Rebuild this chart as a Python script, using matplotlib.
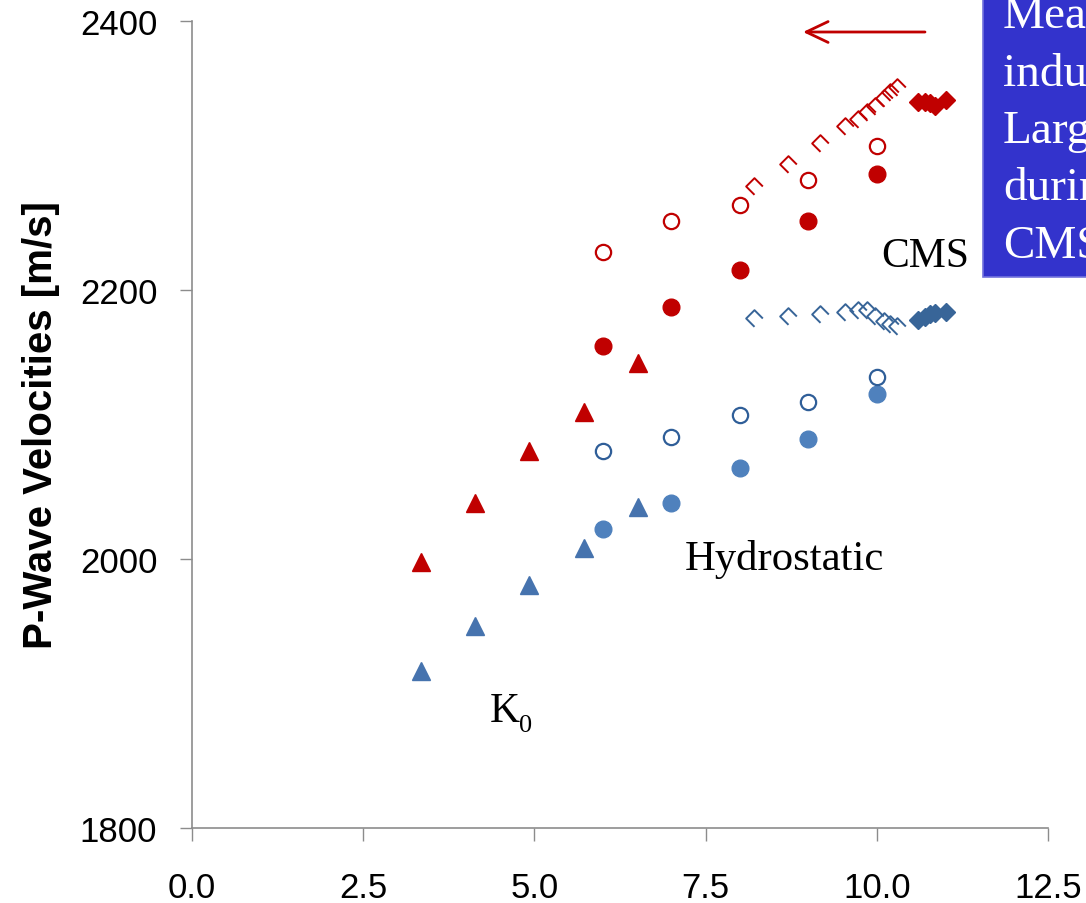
import matplotlib
matplotlib.use("Agg")
import matplotlib.pyplot as plt
from matplotlib.path import Path
from matplotlib.patches import Rectangle, FancyArrowPatch
from matplotlib import font_manager

# ---- data -------------------------------------------------------------
# K0 loading (triangles)
k0_x = [3.34, 4.13, 4.92, 5.72, 6.51]
k0_red = [1998, 2042, 2080, 2109, 2146]
k0_blue = [1917, 1950, 1981, 2008, 2039]

# Hydrostatic loading (circles)
hyd_x = [6, 7, 8, 9, 10]
hyd_red_open = [2228, 2251, 2263, 2282, 2307]
hyd_red_fill = [2158, 2187, 2215, 2251, 2286]
hyd_blue_open = [2080, 2091, 2107, 2117, 2135]
hyd_blue_fill = [2022, 2042, 2068, 2089, 2123]

# CMS loading (diamonds)
cms_x = [8.2, 8.7, 9.17, 9.54, 9.72, 9.85, 9.98, 10.1, 10.2, 10.3]
cms_red_open = [2277, 2294, 2309, 2322, 2327, 2332, 2337, 2343, 2347, 2351]
cms_blue_open = [2179, 2181, 2182, 2184, 2185, 2185, 2181, 2177, 2175, 2173]
cms_fill_x = [10.60, 10.70, 10.78, 10.85, 11.01]
cms_red_fill = [2340, 2340, 2339, 2337, 2341]
cms_blue_fill = [2178, 2180, 2182, 2183, 2184]

x_ticks = [0.0, 2.5, 5.0, 7.5, 10.0, 12.5]
x_ticklabels = ["0.0", "2.5", "5.0", "7.5", "10.0", "12.5"]
y_ticks = [1800, 2000, 2200, 2400]
y_label = "P-Wave Velocities [m/s]"
box_lines = ["Measured", "induced", "Larger", "during", "CMS."]

# ---- colours ------------------------------------------------------------
RED = "#C00000"
BLUE_TRI = "#4673AE"
BLUE_FILL = "#4F81BD"
BLUE_OPEN = "#2F5E98"
BLUE_DIA = "#386598"
AXIS_GREY = "#8C8C8C"

available = {f.name for f in font_manager.fontManager.ttflist}
SANS = "Liberation Sans" if "Liberation Sans" in available else "DejaVu Sans"
SERIF = "Liberation Serif" if "Liberation Serif" in available else "DejaVu Serif"
if "Liberation Sans Narrow" in available:
    label_font, label_size = "Liberation Sans Narrow", 35
else:
    label_font, label_size = SANS, 29

# open diamond drawn as three strokes
open_dia = Path([(0, -1), (-1, 0), (0, 1), (1, 0)],
                [Path.MOVETO, Path.LINETO, Path.LINETO, Path.LINETO])

W, H = 1086, 904
fig = plt.figure(figsize=(W / 100, H / 100), dpi=100)
ax = fig.add_axes([192 / W, 75 / H, 856 / W, 807 / H])
ax.set_xlim(0, 12.5)
ax.set_ylim(1800, 2400)

for side in ("top", "right"):
    ax.spines[side].set_visible(False)
for side in ("left", "bottom"):
    ax.spines[side].set_color(AXIS_GREY)
    ax.spines[side].set_linewidth(1.2)

ax.set_xticks(x_ticks)
ax.set_xticklabels(x_ticklabels)
ax.set_yticks(y_ticks)
ax.tick_params(axis="both", direction="out", length=9, width=1.0,
               color=AXIS_GREY, labelsize=25)
ax.tick_params(axis="y", pad=16)
ax.tick_params(axis="x", pad=22)
for lab in ax.get_xticklabels() + ax.get_yticklabels():
    lab.set_fontfamily(SANS)

ax.set_ylabel(y_label, fontfamily=label_font, fontsize=label_size,
              fontweight="bold", labelpad=14)

kw = dict(linestyle="none", clip_on=False)
# K0
ax.plot(k0_x, k0_red, marker="^", ms=12.4, color=RED, mec=RED, **kw)
ax.plot(k0_x, k0_blue, marker="^", ms=12.4, color=BLUE_TRI, mec=BLUE_TRI, **kw)
# Hydrostatic
ax.plot(hyd_x, hyd_red_fill, marker="o", ms=12, color=RED, mec=RED, **kw)
ax.plot(hyd_x, hyd_red_open, marker="o", ms=11, mfc="none", mec=RED, mew=1.6, **kw)
ax.plot(hyd_x, hyd_blue_fill, marker="o", ms=12, color=BLUE_FILL, mec=BLUE_FILL, **kw)
ax.plot(hyd_x, hyd_blue_open, marker="o", ms=11, mfc="none", mec=BLUE_OPEN, mew=1.6, **kw)
# CMS
ax.plot(cms_x, cms_red_open, marker=open_dia, ms=12, mfc="none", mec=RED, mew=1.4, **kw)
ax.plot(cms_x, cms_blue_open, marker=open_dia, ms=12, mfc="none", mec=BLUE_DIA, mew=1.4, **kw)
ax.plot(cms_fill_x, cms_red_fill, marker="D", ms=9, color=RED, mec=RED, **kw)
ax.plot(cms_fill_x, cms_blue_fill, marker="D", ms=9, color=BLUE_DIA, mec=BLUE_DIA, **kw)

# curve labels
ax.text(7.2, 1992.6, "Hydrostatic", fontfamily=SERIF, fontsize=30.8, va="baseline")
ax.text(10.06, 2217.8, "CMS", fontfamily=SERIF, fontsize=30, va="baseline")
ax.text(4.35, 1879.6, "K", fontfamily=SERIF, fontsize=30, va="baseline")
ax.text(4.78, 1872.3, "0", fontfamily=SERIF, fontsize=19, va="baseline")

# call-out box at the upper right
fig.patches.append(Rectangle((983 / W, 1 - 278 / H), 0.3, 0.5,
                             transform=fig.transFigure, facecolor="#3333CC",
                             edgecolor="#7373DD", lw=1.2, zorder=3))
for i, line in enumerate(box_lines):
    fig.text(1003 / W, 1 - (28 + 57.5 * i) / H, line, color="white",
             fontfamily=SERIF, fontsize=34, va="baseline", zorder=4)

# arrow pointing left
fig.patches.append(FancyArrowPatch((925 / W, 1 - 33 / H), (803 / W, 1 - 33 / H),
                                   transform=fig.transFigure,
                                   arrowstyle="->,head_length=1.05,head_width=0.5",
                                   mutation_scale=15, color=RED, lw=2.0,
                                   shrinkA=0, shrinkB=0, zorder=4))

fig.savefig("out.png", dpi=100)
